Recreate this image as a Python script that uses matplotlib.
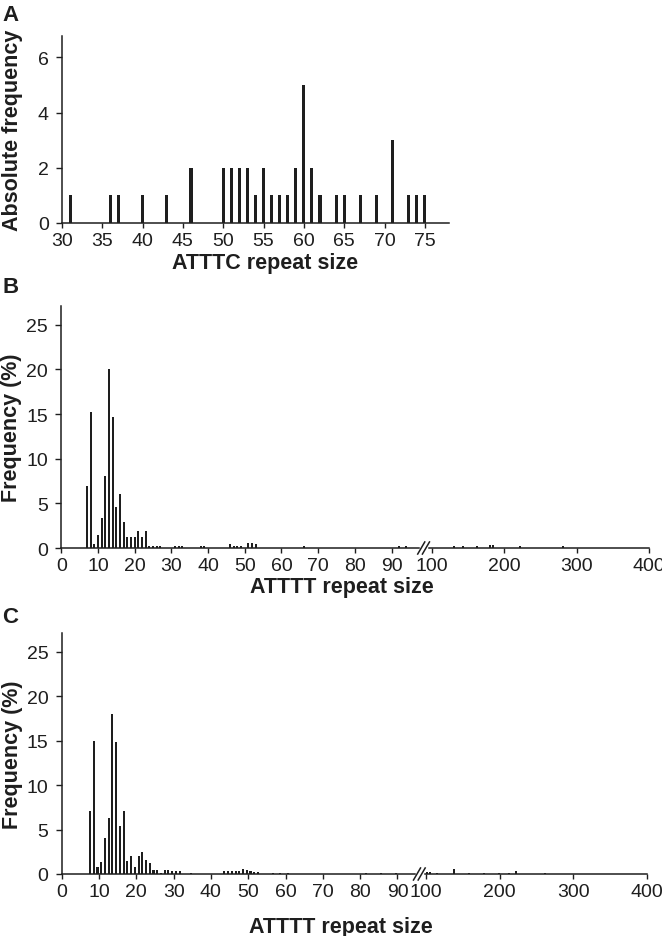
import numpy as np
import matplotlib
matplotlib.use('Agg')
import matplotlib.pyplot as plt


# panel A: ATTTC repeat sizes and absolute counts
attc_size = [31, 36, 37, 40, 43, 46, 50, 51, 52, 53, 54, 55, 56, 57, 58, 59,
             60, 61, 62, 64, 65, 67, 69, 71, 73, 74, 75]
attc_count = [1, 1, 1, 1, 1, 2, 2, 2, 2, 2, 1, 2, 1, 1, 1, 2,
              5, 2, 1, 1, 1, 1, 1, 3, 1, 1, 1]

# panel B: ATTTT repeat sizes, frequency (%)
b_size = [7, 8, 9, 10, 11, 12, 13, 14, 15, 16, 17, 18, 19, 20, 21, 22, 23,
          24, 25, 26, 27, 31, 32, 33, 38, 39, 46, 47, 48, 49, 51, 52, 53,
          66, 92, 94, 130, 143, 162, 180, 184, 221, 281]
b_freq = [6.9, 15.2, 0.4, 1.4, 3.4, 8.1, 20.0, 14.7, 4.6, 6.1, 2.9, 1.2, 1.2,
          1.2, 1.9, 1.2, 1.9, 0.25, 0.25, 0.25, 0.25, 0.25, 0.25, 0.25, 0.25,
          0.25, 0.4, 0.25, 0.25, 0.25, 0.55, 0.55, 0.4,
          0.2, 0.2, 0.2, 0.2, 0.2, 0.2, 0.3, 0.3, 0.2, 0.2]

# panel C: ATTTT repeat sizes, frequency (%)
c_size = [7, 8, 9, 10, 11, 12, 13, 14, 15, 16, 17, 18, 19, 20, 21, 22, 23,
          24, 25, 26, 27, 28, 29, 30, 31, 34, 43, 44, 45, 46, 47, 48, 49,
          50, 51, 52, 56, 58, 60, 81, 85, 89,
          101, 104, 114, 137, 157, 178, 198, 212, 221, 261]
c_freq = [7.1, 14.9, 0.75, 1.35, 4.1, 6.3, 18.0, 14.8, 5.4, 7.1, 1.45, 2.0,
          0.75, 2.0, 2.45, 1.6, 1.25, 0.5, 0.5, 0.15, 0.5, 0.4, 0.3, 0.3, 0.3,
          0.15, 0.3, 0.3, 0.3, 0.35, 0.3, 0.6, 0.4, 0.3, 0.25, 0.25,
          0.15, 0.15, 0.15, 0.15, 0.15, 0.15,
          0.2, 0.2, 0.15, 0.6, 0.15, 0.15, 0.15, 0.15, 0.3, 0.15]

a_ticks = list(range(30, 80, 5))
bc_ticks = [0, 10, 20, 30, 40, 50, 60, 70, 80, 90, 100, 200, 300, 400]

INK = '#1e1e1e'
K = 0.197          # compression of the 100-400 segment
plt.rcParams['font.family'] = ['Liberation Sans', 'DejaVu Sans']
plt.rcParams['text.color'] = INK
plt.rcParams['axes.labelcolor'] = INK
plt.rcParams['xtick.color'] = INK
plt.rcParams['ytick.color'] = INK


def broken(split, start):
    def fwd(x):
        x = np.asarray(x, dtype=float)
        return np.where(x < split, x, start + (x - 100) * K)

    def inv(y):
        y = np.asarray(y, dtype=float)
        return np.where(y < split, y, 100 + (y - start) / K)
    return fwd, inv


def style(ax, ylim, yticks):
    for s in ('top', 'right'):
        ax.spines[s].set_visible(False)
    for s in ('left', 'bottom'):
        ax.spines[s].set_linewidth(1.1)
        ax.spines[s].set_color(INK)
    ax.set_ylim(*ylim)
    ax.set_yticks(yticks)
    ax.tick_params(axis='y', length=4.5, width=1.0, pad=5, labelsize=14)
    ax.tick_params(axis='x', length=3.5, width=1.0, pad=3, labelsize=14)


W, H = 662, 937


def box(l, t, r, b):
    return [l / W, 1 - b / H, (r - l) / W, (b - t) / H]


fig = plt.figure(figsize=(W / 100, H / 100), dpi=100)

# ---- A
axA = fig.add_axes(box(62, 37, 449, 224))
axA.bar(attc_size, attc_count, width=0.38, color=INK, linewidth=0)
axA.set_xlim(30, 78)
axA.set_xticks(a_ticks)
style(axA, (0, 6.77), [0, 2, 4, 6])
axA.set_xlabel('ATTTC repeat size', fontsize=15.5, fontweight='bold')
axA.set_ylabel('Absolute frequency', fontsize=15.5, fontweight='bold')
axA.xaxis.set_label_coords(0.525, -0.155)
axA.yaxis.set_label_coords(-0.101, 0.5)


def panel(rect, sizes, freqs, split, start):
    ax = fig.add_axes(rect)
    fwd, inv = broken(split, start)
    ax.set_xscale('function', functions=(fwd, inv))
    sizes = np.asarray(sizes)
    widths = np.where(sizes < split, 0.55, 0.55 / K)
    ax.bar(sizes, freqs, width=widths, color=INK, linewidth=0)
    ax.set_xlim(0, 400)
    ax.set_xticks(bc_ticks)
    ax.set_xticklabels([str(t) for t in bc_ticks])
    ax.xaxis.set_minor_locator(matplotlib.ticker.NullLocator())
    style(ax, (0, 27.1), [0, 5, 10, 15, 20, 25])
    ax.set_xlabel('ATTTT repeat size', fontsize=15.5, fontweight='bold')
    ax.set_ylabel('Frequency (%)', fontsize=15.5, fontweight='bold')
    ax.yaxis.set_label_coords(-0.066, 0.5)

    # break mark on the x axis, centred in the gap of the scale
    lo = float(fwd(0))
    hi = float(fwd(400))
    gap = (split + start + (split - 100) * K) / 2
    xf = (gap - lo) / (hi - lo)
    ax.plot([xf - 0.004, xf + 0.004], [0, 0], transform=ax.transAxes,
            color='white', lw=2.5, clip_on=False, zorder=5)
    for dx in (-0.004, 0.004):
        ax.plot([xf + dx - 0.006, xf + dx + 0.006], [-0.025, 0.025],
                transform=ax.transAxes, color=INK, lw=1.1,
                clip_on=False, zorder=6)
    return ax


axB = panel(box(61.2, 307, 649, 549), b_size, b_freq, 97, 101.0)
axB.xaxis.set_label_coords(0.477, -0.115)
# C bars sit a little right of the integer sizes in the original
C_SHIFT = 0.6
axC = panel(box(61.7, 634, 646.7, 875), np.asarray(c_size) + C_SHIFT,
            c_freq, 95, 97.7)
axC.xaxis.set_label_coords(0.477, -0.175)

for letter, top in (('A', 5), ('B', 277), ('C', 607)):
    fig.text(2 / W, 1 - top / H, letter, fontsize=16, fontweight='bold',
             va='top', ha='left')

fig.savefig('out.png', dpi=100)
